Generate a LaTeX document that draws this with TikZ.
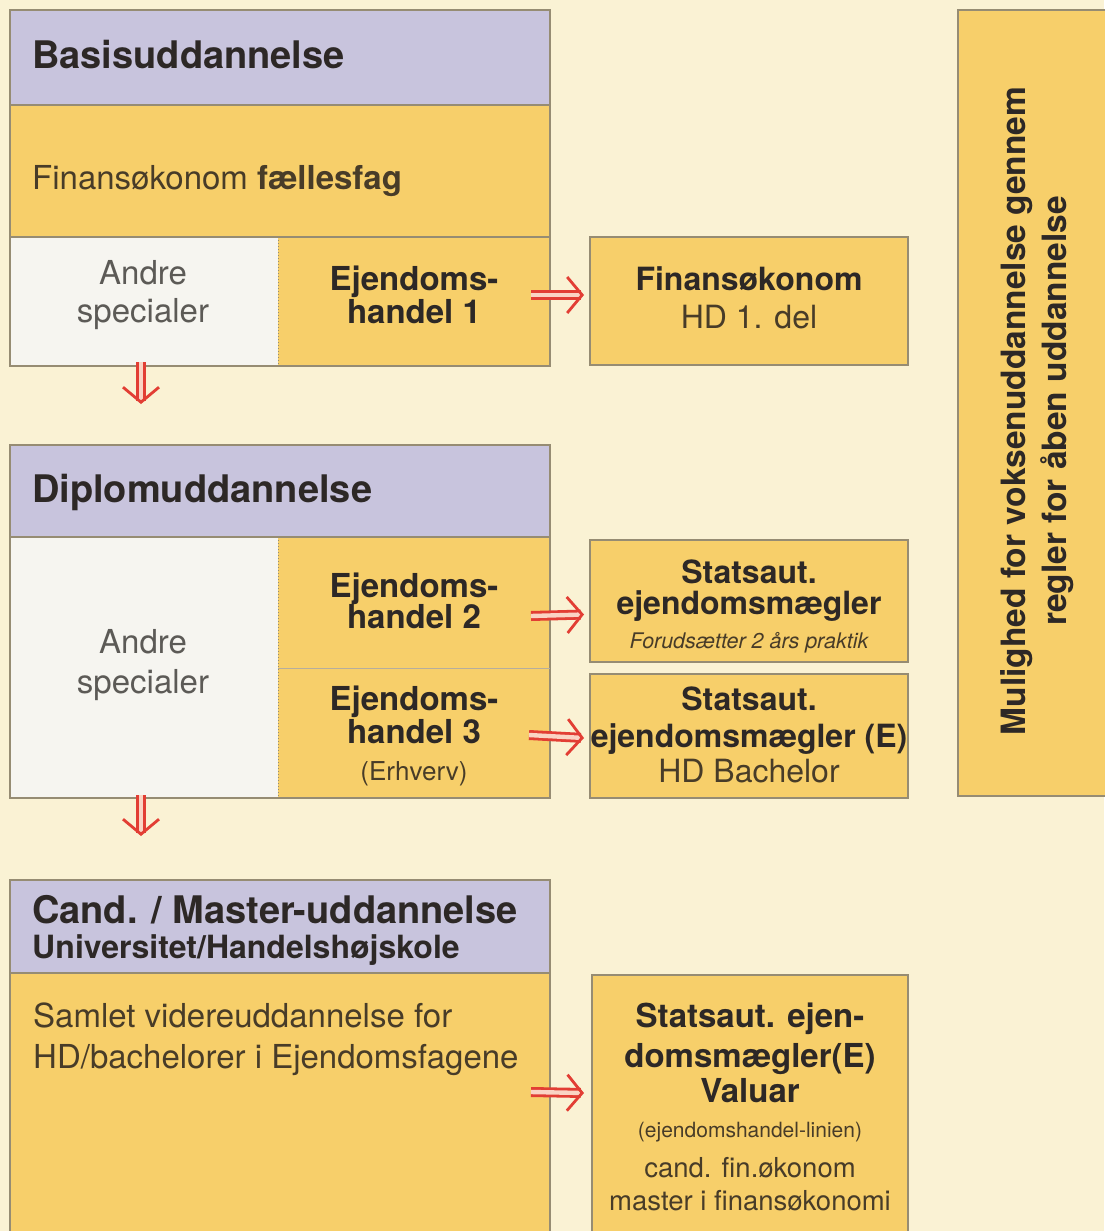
\documentclass[tikz,border=0pt]{standalone}
\usepackage{fontspec}
\setmainfont{TeX Gyre Heros}
\usetikzlibrary{arrows.meta,fit}
\definecolor{bgcream}{RGB}{250,242,212}
\definecolor{gold}{RGB}{247,207,106}
\definecolor{lav}{RGB}{200,196,221}
\definecolor{offwhite}{RGB}{246,245,240}
\definecolor{edge}{RGB}{150,140,115}
\definecolor{arrred}{RGB}{226,62,52}
\definecolor{arrpale}{RGB}{250,212,196}
\definecolor{ink}{RGB}{45,40,38}
\definecolor{brownink}{RGB}{72,60,40}
\definecolor{greyink}{RGB}{92,90,86}
\begin{document}
\begin{tikzpicture}[x=1pt,y=-1pt,
  box/.style={draw=edge,line width=1.3pt,inner sep=0pt,outer sep=0pt},
  cell/.style={inner sep=0pt,outer sep=0pt},
  txt/.style={inner sep=0pt,anchor=base,text=ink},
  lft/.style={inner sep=0pt,anchor=base west,text=ink},
  hd/.style={lft,font=\fontsize{38}{44}\selectfont\bfseries},
  bd/.style={txt,font=\fontsize{33}{38}\selectfont\bfseries},
  sbd/.style={txt,font=\fontsize{32}{38}\selectfont\bfseries},
  rg/.style={txt,text=brownink,font=\fontsize{32}{38}\selectfont},
  gr/.style={txt,text=greyink,font=\fontsize{33}{38}\selectfont},
  imp/.style={draw=arrred,line width=2.8pt,double=arrpale,double distance=4.4pt,
    -{Straight Barb[length=15pt,width=36pt]}}]
% pixel grid, y downwards
\useasboundingbox (0,0) rectangle (1104,1231);
\fill[bgcream] (0,0) rectangle (1104,1231);
% Basisuddannelse
\node[box,fill=lav,fit={(10,10)(550,105)}] (bhead) {};
\node[box,fill=gold,fit={(10,105)(550,237)}] (bbody) {};
\node[cell,fill=offwhite,fit={(10,237)(278,366)}] (bandre) {};
\node[cell,fill=gold,fit={(278,237)(550,366)}] (beh1) {};
\node[box,fit=(bandre)(beh1)] (brow) {};
\draw[edge,line width=1pt,dotted] (beh1.north west) -- (beh1.south west);
\node[hd] (tbasis) at (32,68) {Basisuddannelse};
\node[lft,text=brownink,font=\fontsize{33}{38}\selectfont] (tfaelles) at (32,189) {Finansøkonom \textbf{fællesfag}};
\node[gr] (tandrea) at (143,284) {Andre};
\node[gr] (tandreb) at (143,322) {specialer};
\node[bd] (teha) at (414,290) {Ejendoms-};
\node[bd] (tehb) at (414,323) {handel 1};
% Finansokonom HD
\node[box,fill=gold,fit={(590,237)(908,365)}] (fin) {};
\node[sbd] (tfina) at (749,290) {Finansøkonom};
\node[rg] (tfinb) at (749,328) {HD 1. del};
\draw[imp] ([xshift=-19pt,yshift=6.5pt]beh1.east) -- ([xshift=-6pt,yshift=6pt]fin.west);
% Diplomuddannelse
\node[box,fill=lav,fit={(10,445)(550,537)}] (dhead) {};
\node[cell,fill=offwhite,fit={(10,537)(278,798)}] (dandre) {};
\node[cell,fill=gold,fit={(278,537)(550,668)}] (deh2) {};
\node[cell,fill=gold,fit={(278,668)(550,798)}] (deh3) {};
\node[box,fit=(dandre)(deh3)] (drow) {};
\draw[edge,line width=1pt,dotted] (deh2.north west) -- (deh3.south west);
\draw[edge!70,line width=1pt] (deh3.north west) -- (deh3.north east);
\node[hd] (tdiplom) at (32,502) {Diplomuddannelse};
\node[gr] (tandrec) at (143,653) {Andre};
\node[gr] (tandred) at (143,693) {specialer};
\node[bd] (tehc) at (414,597) {Ejendoms-};
\node[bd] (tehd) at (414,628) {handel 2};
\node[bd] (tehe) at (414,710) {Ejendoms-};
\node[bd] (tehf) at (414,743) {handel 3};
\node[rg,font=\fontsize{26}{30}\selectfont] (tehg) at (414,780) {(Erhverv)};
% Statsaut. boxes
\node[box,fill=gold,fit={(590,540)(908,662)}] (stat1) {};
\node[sbd] (tstata) at (749,583) {Statsaut.};
\node[sbd] (tstatb) at (749,614) {ejendomsmægler};
\node[rg,font=\fontsize{21.5}{24}\selectfont\itshape] (tstatc) at (749,648) {Forudsætter 2 års praktik};
\node[box,fill=gold,fit={(590,674)(908,798)}] (stat2) {};
\node[sbd] (tstatd) at (749,710) {Statsaut.};
\node[sbd] (tstate) at (749,747) {ejendomsmægler (E)};
\node[rg] (tstatf) at (749,782) {HD Bachelor};
\draw[imp] ([xshift=-19pt,yshift=-13.5pt]deh2.east) -- ([xshift=-6pt,yshift=-13.5pt]stat1.west);
\draw[imp] ([xshift=-21pt,yshift=-2pt]deh3.east) -- ([xshift=-6pt,yshift=-2pt]stat2.west);
% Cand. / Master
\node[box,fill=lav,fit={(10,880)(550,973)}] (chead) {};
\node[box,fill=gold,fit={(10,973)(550,1245)}] (cbody) {};
\node[hd] (tcand) at (32,923) {Cand. / Master-uddannelse};
\node[lft,font=\fontsize{32}{36}\selectfont\bfseries] (tuni) at (32,958) {Universitet/Handelshøjskole};
\node[lft,text=brownink,font=\fontsize{33}{38}\selectfont] (tsama) at (33,1027) {Samlet videreuddannelse for};
\node[lft,text=brownink,font=\fontsize{33}{38}\selectfont] (tsamb) at (33,1068) {HD/bachelorer i Ejendomsfagene};
\node[box,fill=gold,fit={(592,975)(908,1245)}] (valuar) {};
\node[bd] (tvala) at (750,1027) {Statsaut. ejen-};
\node[bd] (tvalb) at (750,1067) {domsmægler(E)};
\node[bd] (tvalc) at (750,1102) {Valuar};
\node[rg,font=\fontsize{21}{24}\selectfont] (tvald) at (750,1137) {(ejendomshandel-linien)};
\node[rg,font=\fontsize{27.5}{32}\selectfont] (tvale) at (750,1177) {cand. fin.økonom};
\node[rg,font=\fontsize{27.5}{32}\selectfont] (tvalf) at (750,1210) {master i finansøkonomi};
\draw[imp] ([xshift=-19pt,yshift=17pt]cbody.east) -- ([xshift=-8pt,yshift=17pt]valuar.west);
% down arrows
\coordinate (dsa) at ([xshift=-3pt,yshift=4pt]bandre.south);
\coordinate (dsb) at ([xshift=-3pt,yshift=3pt]dandre.south);
\draw[imp,shorten >=41pt] (dsa) -- (dsa |- dhead.north);
\draw[imp,shorten >=44pt] (dsb) -- (dsb |- chead.north);
% open education
\node[box,fill=gold,fit={(958,10)(1112,796)}] (open) {};
\node[txt,rotate=90,font=\fontsize{33.5}{40}\selectfont\bfseries] (topena) at (1025,411) {Mulighed for voksenuddannelse gennem};
\node[txt,rotate=90,font=\fontsize{33.5}{40}\selectfont\bfseries] (topenb) at (1066,411) {regler for åben uddannelse};
\end{tikzpicture}
\end{document}
